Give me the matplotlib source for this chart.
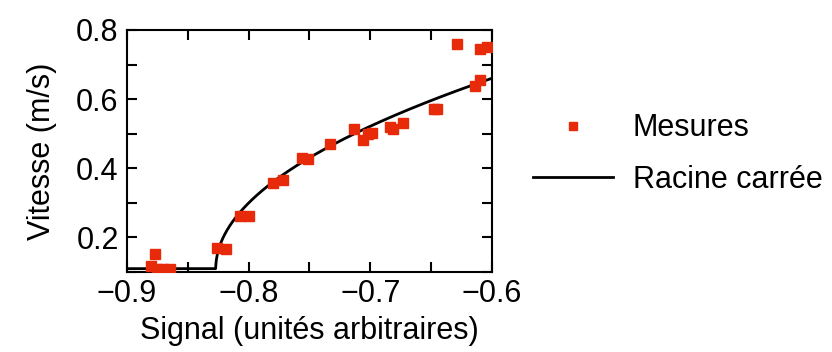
import numpy as np
import matplotlib.pyplot as plt
from matplotlib.ticker import MultipleLocator

plt.rcParams['font.family'] = ['Liberation Sans', 'DejaVu Sans']

signal = [-0.877, -0.880, -0.875, -0.870, -0.865, -0.826, -0.819, -0.807, -0.800,
          -0.780, -0.772, -0.756, -0.751, -0.733, -0.713, -0.706, -0.702, -0.699,
          -0.684, -0.681, -0.673, -0.648, -0.645, -0.629, -0.614, -0.610, -0.610,
          -0.604]
vitesse = [0.151, 0.119, 0.110, 0.110, 0.110, 0.171, 0.168, 0.261, 0.263,
           0.357, 0.365, 0.430, 0.428, 0.471, 0.515, 0.481, 0.500, 0.502,
           0.520, 0.515, 0.530, 0.570, 0.572, 0.758, 0.638, 0.655, 0.745,
           0.750]

# parametres de l'ajustement en racine carree
v0 = 0.11
a = 1.155
s0 = -0.827

s = np.linspace(-0.9, -0.6, 800)
v = v0 + a * np.sqrt(np.clip(s - s0, 0, None))

fig = plt.figure(figsize=(8.32, 3.52), dpi=100)
ax = fig.add_axes([0.1526, 0.227, 0.4387, 0.688])

ax.plot(signal, vitesse, 's', color='#e62a0a', markersize=7.5, label='Mesures', zorder=3)
ax.plot(s, v, color='black', lw=2, label='Racine carrée', zorder=2)

ax.set_xlim(-0.9, -0.6)
ax.set_ylim(0.1, 0.8)
ax.xaxis.set_major_locator(MultipleLocator(0.1))
ax.xaxis.set_minor_locator(MultipleLocator(0.05))
ax.yaxis.set_major_locator(MultipleLocator(0.2))
ax.yaxis.set_minor_locator(MultipleLocator(0.1))
ax.tick_params(which='both', direction='in', top=True, right=True,
               length=7, width=1.5, labelsize=22)
ax.xaxis.set_major_formatter(plt.FuncFormatter(lambda x, p: f'{x:.1f}'.replace('-', '\u2212')))
ax.tick_params(axis='x', pad=5)
ax.tick_params(axis='y', pad=6)
for sp in ax.spines.values():
    sp.set_linewidth(1.5)

ax.set_xlabel('Signal (unités arbitraires)', fontsize=22, labelpad=5)
ax.set_ylabel('Vitesse (m/s)', fontsize=22, labelpad=14)

leg = ax.legend(loc='center left', bbox_to_anchor=(0.641, 0.5625), bbox_transform=fig.transFigure,
                frameon=False, fontsize=22, handlelength=2.6, handletextpad=0.65,
                labelspacing=0.7, numpoints=1, borderpad=0, borderaxespad=0,
                markerscale=0.8)

fig.savefig('out.png', dpi=100)
